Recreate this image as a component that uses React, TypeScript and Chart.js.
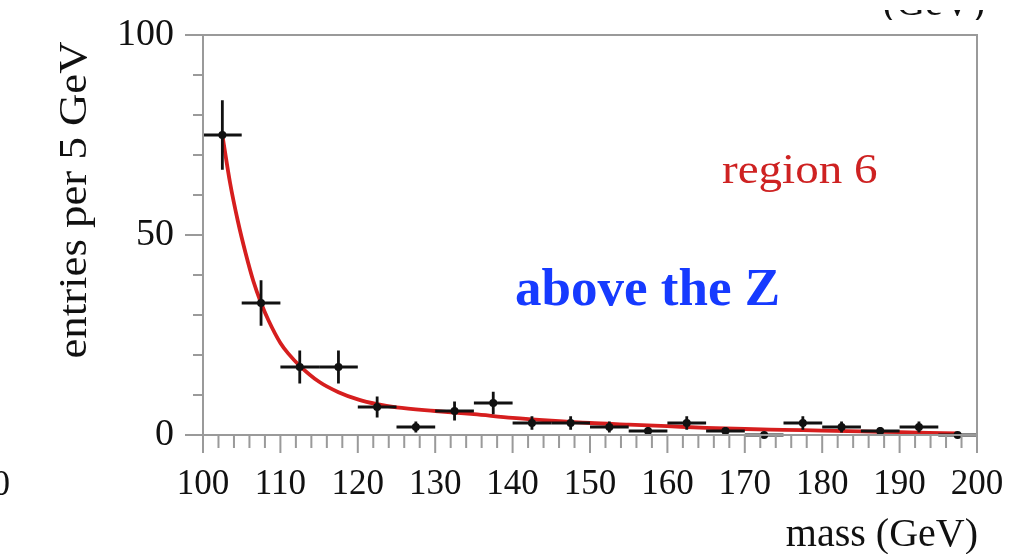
import { useEffect, useRef } from "react";
import { Chart, registerables } from "chart.js";

Chart.register(...registerables);

// Histogram bins (5 GeV wide) and their counts
const binCenters = [
  102.5, 107.5, 112.5, 117.5, 122.5, 127.5, 132.5, 137.5, 142.5, 147.5,
  152.5, 157.5, 162.5, 167.5, 172.5, 177.5, 182.5, 187.5, 192.5, 197.5,
];
const entries = [75, 33, 17, 17, 7, 2, 6, 8, 3, 3, 2, 1, 3, 1, 0, 3, 2, 1, 2, 0];
const entryErrors = [
  8.7, 5.7, 4.1, 4.1, 2.6, 1.4, 2.4, 2.8, 1.7, 1.7,
  1.4, 1.0, 1.7, 1.0, 0, 1.7, 1.4, 1.0, 1.4, 0,
];
const binHalfWidth = 2.5;

// Fitted background shape
const fitMass = [
  102.5, 103.5, 104.5, 105.5, 106.5, 107.5, 108.5, 110, 111, 112.5, 115, 117.5,
  120, 122.5, 125, 130, 135, 140, 145, 150, 155, 160, 165, 170, 175, 180,
  185, 190, 197.5,
];
const fitValue = [
  75, 63, 53.5, 45.5, 38.5, 33, 28.5, 23, 20.4, 17.3, 13.3, 10.7,
  8.9, 7.7, 6.9, 6.0, 5.2, 4.3, 3.6, 3.0, 2.6, 2.2, 1.8, 1.5, 1.3, 1.1,
  0.9, 0.7, 0.4,
];

const xMajorStep = 10;
const xMinorStep = 2;
const yMajorStep = 50;
const yMinorStep = 10;

const yTitle = "entries per 5 GeV";
const xTitle = "mass (GeV)";
const xUnit = "(GeV)";
const regionLabel = "region 6";
const regionNote = "above the Z";

const SERIF = '"Liberation Serif", "Times New Roman", serif';
const AXIS_GREY = "#9a9a9a";

// keep end labels from pushing the plot area inwards
function noEdgePadding(scale: any) {
  scale.paddingTop = 0;
  scale.paddingBottom = 0;
  scale.paddingLeft = 0;
  scale.paddingRight = 0;
}

export default function App() {
  const canvasRef = useRef<HTMLCanvasElement>(null);

  useEffect(() => {
    const canvas = canvasRef.current;
    if (!canvas) return;

    const decorations = {
      id: "decorations",
      afterDatasetsDraw(chart: any) {
        const ctx = chart.ctx as CanvasRenderingContext2D;
        const xs = chart.scales.x;
        const ys = chart.scales.y;
        ctx.save();
        ctx.strokeStyle = "#111";
        ctx.lineWidth = 2.8;
        ctx.lineCap = "butt";
        binCenters.forEach((m, i) => {
          const px = xs.getPixelForValue(m);
          const py = ys.getPixelForValue(entries[i]);
          const x0 = xs.getPixelForValue(m - binHalfWidth);
          const x1 = xs.getPixelForValue(m + binHalfWidth);
          ctx.beginPath();
          ctx.moveTo(x0, py);
          ctx.lineTo(x1, py);
          if (entryErrors[i] > 0) {
            ctx.moveTo(px, ys.getPixelForValue(entries[i] - entryErrors[i]));
            ctx.lineTo(px, ys.getPixelForValue(entries[i] + entryErrors[i]));
          }
          ctx.stroke();
        });
        ctx.restore();
      },
      afterDraw(chart: any) {
        const ctx = chart.ctx as CanvasRenderingContext2D;
        const xs = chart.scales.x;
        const ys = chart.scales.y;
        const area = chart.chartArea;
        ctx.save();

        // frame
        ctx.strokeStyle = AXIS_GREY;
        ctx.lineWidth = 2;
        ctx.strokeRect(area.left, area.top, area.right - area.left, area.bottom - area.top);

        // x ticks, pointing down
        ctx.beginPath();
        for (let v = xs.min; v <= xs.max + 1e-6; v += xMinorStep) {
          const px = xs.getPixelForValue(v);
          const major = Math.abs(v / xMajorStep - Math.round(v / xMajorStep)) < 1e-6;
          ctx.moveTo(px, area.bottom);
          ctx.lineTo(px, area.bottom + (major ? 18 : 13));
        }
        // y ticks, pointing left
        for (let v = ys.min; v <= ys.max + 1e-6; v += yMinorStep) {
          const py = ys.getPixelForValue(v);
          const major = Math.abs(v / yMajorStep - Math.round(v / yMajorStep)) < 1e-6;
          ctx.moveTo(area.left, py);
          ctx.lineTo(area.left - (major ? 18 : 10), py);
        }
        ctx.stroke();

        ctx.fillStyle = "#111";
        ctx.textBaseline = "alphabetic";

        // x title
        ctx.font = `40px ${SERIF}`;
        ctx.textAlign = "right";
        ctx.fillText(xTitle, area.right + 1, 546);

        // y title
        ctx.save();
        ctx.translate(86, 200);
        ctx.rotate(-Math.PI / 2);
        ctx.scale(1.12, 1);
        ctx.font = `40px ${SERIF}`;
        ctx.textAlign = "center";
        ctx.fillText(yTitle, 0, 0);
        ctx.restore();

        // edges of neighbouring panels
        ctx.save();
        ctx.beginPath();
        ctx.rect(0, 10, 1013, 10);
        ctx.clip();
        ctx.font = `40px ${SERIF}`;
        ctx.textAlign = "right";
        ctx.fillText(xUnit, area.right + 8, 15);
        ctx.restore();
        ctx.font = `35px ${SERIF}`;
        ctx.textAlign = "right";
        ctx.fillText("200", 10, 495);

        // annotations
        ctx.save();
        ctx.translate(722, 183);
        ctx.scale(1.12, 1);
        ctx.font = `42px ${SERIF}`;
        ctx.textAlign = "left";
        ctx.fillStyle = "rgb(206, 34, 34)";
        ctx.fillText(regionLabel, 0, 0);
        ctx.restore();

        ctx.font = `bold 53px ${SERIF}`;
        ctx.textAlign = "left";
        ctx.fillStyle = "rgb(22, 58, 255)";
        ctx.fillText(regionNote, 515, 305);

        ctx.restore();
      },
    };

    const chart = new Chart(canvas, {
      type: "scatter",
      data: {
        datasets: [
          {
            label: "data",
            data: binCenters.map((m, i) => ({ x: m, y: entries[i] })),
            pointRadius: 4,
            pointBackgroundColor: "#111",
            pointBorderColor: "#111",
            pointBorderWidth: 0,
            showLine: false,
            clip: false,
          } as any,
          {
            label: "fit",
            type: "line",
            data: fitMass.map((m, i) => ({ x: m, y: fitValue[i] })),
            borderColor: "rgb(214, 30, 30)",
            borderWidth: 3.8,
            pointRadius: 0,
            fill: false,
            showLine: true,
            cubicInterpolationMode: "monotone",
            clip: false,
          } as any,
        ],
      },
      options: {
        responsive: false,
        animation: false,
        devicePixelRatio: 1,
        layout: { padding: { top: 35, right: 36, left: 0, bottom: 0 } },
        plugins: {
          legend: { display: false },
          tooltip: { enabled: false },
        },
        scales: {
          x: {
            type: "linear",
            min: 100,
            max: 200,
            grid: { display: false, drawTicks: false, tickLength: 0 },
            border: { display: false },
            ticks: {
              stepSize: xMajorStep,
              autoSkip: false,
              maxRotation: 0,
              padding: 29,
              color: "#111",
              font: { family: SERIF, size: 35 },
            },
            afterFit(scale: any) {
              scale.height = 119;
              noEdgePadding(scale);
            },
          },
          y: {
            type: "linear",
            min: 0,
            max: 100,
            grid: { display: false, drawTicks: false, tickLength: 0 },
            border: { display: false },
            ticks: {
              stepSize: yMinorStep,
              autoSkip: false,
              padding: 29,
              color: "#111",
              font: { family: SERIF, size: 38 },
              callback: (v: any) => (Number(v) % yMajorStep === 0 ? String(v) : ""),
            },
            afterFit(scale: any) {
              scale.width = 203;
              noEdgePadding(scale);
            },
          },
        },
      },
      plugins: [decorations],
    });

    return () => chart.destroy();
  }, []);

  return (
    <div style={{ position: "fixed", left: 0, top: 0, width: 1013, height: 554, background: "#fff" }}>
      <canvas ref={canvasRef} width={1013} height={554} style={{ display: "block" }} />
    </div>
  );
}
